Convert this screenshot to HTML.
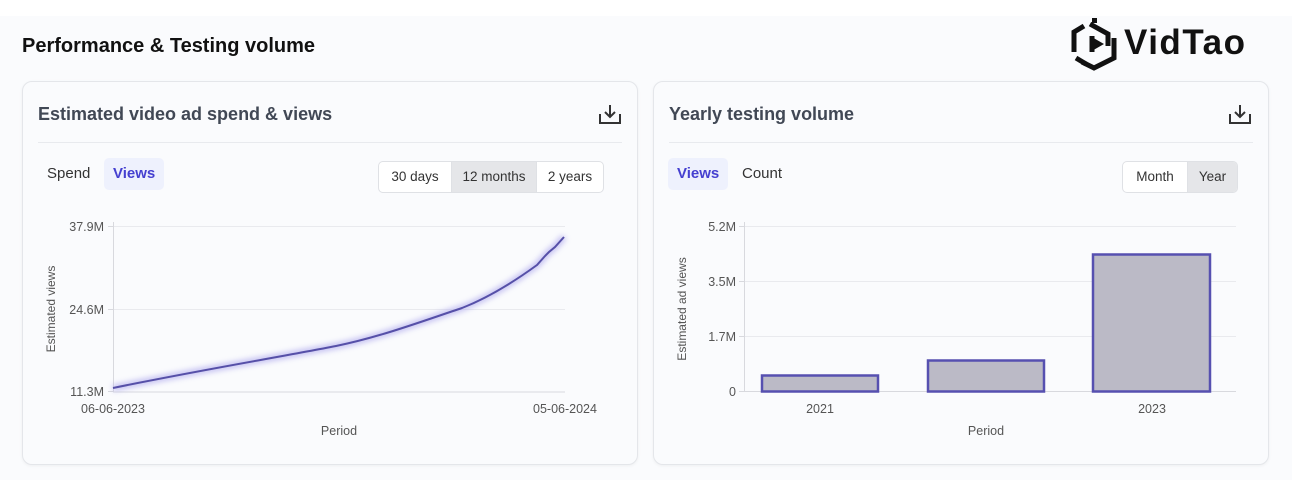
<!DOCTYPE html>
<html><head><meta charset="utf-8"><style>
*{margin:0;padding:0;box-sizing:border-box}
body{width:1292px;height:480px;background:#fafbfd;font-family:"Liberation Sans",sans-serif;position:relative;overflow:hidden}
.top{position:absolute;left:0;top:0;width:1292px;height:16px;background:#fff}
.abs{position:absolute}
.card{position:absolute;top:81px;width:616px;height:384px;background:#fafbfd;border:1px solid #e4e6ea;border-radius:10px;box-shadow:0 1px 3px rgba(0,0,0,0.05)}
.title{position:absolute;left:15px;top:22px;font-size:18px;font-weight:bold;color:#414855}
.hr{position:absolute;left:15px;right:15px;top:60px;height:1px;background:#e8eaee}
.tab{position:absolute;top:76px;height:32px;line-height:32px;font-size:15px;color:#333;padding:0 9px;border-radius:5px}
.tab.on{background:#eef1fd;color:#4540d0;font-weight:bold}
.grp{position:absolute;top:79px;height:32px;border:1px solid #dfe1e5;border-radius:5px;background:#fff;display:flex;overflow:hidden}
.grp div{font-size:13.5px;color:#333;line-height:30px;text-align:center}
.grp .on{background:#e5e6e9}
</style></head><body>
<div class="top"></div>
<div class="abs" style="left:22px;top:35px;font-size:20px;font-weight:bold;color:#111">Performance &amp; Testing volume</div>
<svg class="abs" style="left:1070px;top:18px" width="50" height="54" viewBox="0 0 50 54">
<g fill="none" stroke="#111" stroke-width="5" stroke-linejoin="miter">
<path d="M14 8 L4 14 V34"/><path d="M20 6 L38 16 V28"/><path d="M44 20 V40 L24 50 L12 44"/><path d="M6 40 L16 46"/><path d="M22 18 L22 34"/>
</g><path d="M20 18 L34 26 L20 34 Z" fill="#111"/><rect x="22" y="0" width="5" height="5" fill="#111"/></svg>
<div class="abs" style="left:1124px;top:23px;font-size:35px;font-weight:bold;color:#111;letter-spacing:1.5px">VidTao</div>

<div class="card" style="left:22px">
<div class="title">Estimated video ad spend &amp; views</div>
<svg class="abs" style="left:575px;top:21px" width="24" height="22" viewBox="0 0 24 22"><g fill="none" stroke="#333" stroke-width="2"><path d="M2 11 V20 H22 V11"/><path d="M12 2 V14 M7 9 L12 14 L17 9"/></g></svg>
<div class="hr"></div>
<div class="tab" style="left:15px">Spend</div>
<div class="tab on" style="left:81px">Views</div>
<div class="grp" style="left:355px"><div style="width:72px">30 days</div><div class="on" style="width:86px;border-left:1px solid #dfe1e5;border-right:1px solid #dfe1e5">12 months</div><div style="width:66px">2 years</div></div>
</div>

<div class="card" style="left:653px">
<div class="title">Yearly testing volume</div>
<svg class="abs" style="left:574px;top:21px" width="24" height="22" viewBox="0 0 24 22"><g fill="none" stroke="#333" stroke-width="2"><path d="M2 11 V20 H22 V11"/><path d="M12 2 V14 M7 9 L12 14 L17 9"/></g></svg>
<div class="hr"></div>
<div class="tab on" style="left:14px">Views</div>
<div class="tab" style="left:79px">Count</div>
<div class="grp" style="left:468px"><div style="width:64px">Month</div><div class="on" style="width:50px;border-left:1px solid #dfe1e5">Year</div></div>
</div>

<svg class="abs" style="left:0;top:0" width="1292" height="480">
<defs><filter id="bl"><feGaussianBlur stdDeviation="3"/></filter></defs>
<g stroke="#e9eaee" stroke-width="1">
<line x1="113" y1="226.5" x2="565" y2="226.5"/><line x1="113" y1="309.5" x2="565" y2="309.5"/>
<line x1="744" y1="226.5" x2="1236" y2="226.5"/><line x1="744" y1="281.5" x2="1236" y2="281.5"/><line x1="744" y1="336.5" x2="1236" y2="336.5"/>
</g>
<g stroke="#d8d9de" stroke-width="1">
<line x1="113.5" y1="222" x2="113.5" y2="392"/><line x1="113" y1="392" x2="565" y2="392"/>
<line x1="108" y1="226.5" x2="113" y2="226.5"/><line x1="108" y1="309.5" x2="113" y2="309.5"/><line x1="108" y1="391.5" x2="113" y2="391.5"/>
<line x1="744.5" y1="222" x2="744.5" y2="392"/><line x1="744" y1="391.5" x2="1236" y2="391.5"/>
<line x1="739" y1="226.5" x2="744" y2="226.5"/><line x1="739" y1="281.5" x2="744" y2="281.5"/><line x1="739" y1="336.5" x2="744" y2="336.5"/><line x1="739" y1="391.5" x2="744" y2="391.5"/>
</g>
<path d="M113 388 C200 370 280 357 336 346 C380 337 420 322 462 308 C490 297 515 281 537 265 L545 256 L549 252 L555 247 L564 237" fill="none" stroke="#a9a3ec" stroke-width="6" filter="url(#bl)" opacity="0.7"/>
<path d="M113 388 C200 370 280 357 336 346 C380 337 420 322 462 308 C490 297 515 281 537 265 L545 256 L549 252 L555 247 L564 237" fill="none" stroke="#5650a8" stroke-width="2"/>
<g fill="#bbbac6" stroke="#5650b0" stroke-width="2.5">
<rect x="762" y="375.5" width="116" height="16"/><rect x="928" y="360.5" width="116" height="31"/><rect x="1093" y="254.5" width="117" height="137"/>
</g>
<g font-family="Liberation Sans,sans-serif" font-size="12.5" fill="#555">
<text x="104" y="231" text-anchor="end">37.9M</text><text x="104" y="314" text-anchor="end">24.6M</text><text x="104" y="396" text-anchor="end">11.3M</text>
<text x="113" y="413" text-anchor="middle">06-06-2023</text><text x="565" y="413" text-anchor="middle">05-06-2024</text>
<text x="339" y="435" text-anchor="middle">Period</text>
<text transform="translate(55 309) rotate(-90)" text-anchor="middle" font-size="12">Estimated views</text>
<text x="736" y="231" text-anchor="end">5.2M</text><text x="736" y="286" text-anchor="end">3.5M</text><text x="736" y="341" text-anchor="end">1.7M</text><text x="736" y="396" text-anchor="end">0</text>
<text x="820" y="413" text-anchor="middle">2021</text><text x="1152" y="413" text-anchor="middle">2023</text>
<text x="986" y="435" text-anchor="middle">Period</text>
<text transform="translate(686 309) rotate(-90)" text-anchor="middle" font-size="12">Estimated ad views</text>
</g>
</svg>
</body></html>
